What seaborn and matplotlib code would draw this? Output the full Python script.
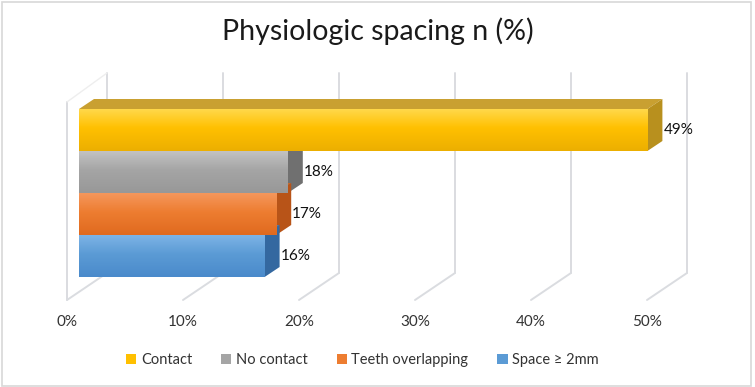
import numpy as np
import matplotlib
matplotlib.use("Agg")
import matplotlib.pyplot as plt
import seaborn as sns
from matplotlib.patches import Polygon, Patch, Rectangle
from matplotlib.colors import to_rgb

# 데이터
categories = ["Contact", "No contact", "Teeth overlapping", "Space \u2265 2mm"]
values = [49, 18, 17, 16]
tick_values = [0, 10, 20, 30, 40, 50]
tick_labels = ["0%", "10%", "20%", "30%", "40%", "50%"]

# 색상 (앞면 / 측면 / 윗면)
front_colors = ["#FFC000", "#A5A5A5", "#ED7D31", "#5B9BD5"]
light_colors = ["#FFD84A", "#C2C2C2", "#F5975C", "#7DB3E6"]
dark_colors = ["#ECAF00", "#989898", "#E06A1F", "#4A8ACB"]
side_colors = ["#B8901E", "#707070", "#B85418", "#3468A0"]
top_colors = ["#C9A031", "#8A8A8A", "#C76A2E", "#4A7DB5"]

sns.set_theme(style="white")
plt.rcParams["font.family"] = ["Lato", "DejaVu Sans"]

W, H = 755, 387
fig = plt.figure(figsize=(W / 100, H / 100), dpi=100)
ax = fig.add_axes([0, 0, 1, 1])

SX = 11.6   # px per 1%
SY = 42.0   # px per bar
X0 = 79     # px of 0% on bar front plane
Y0 = 130    # px of first bar centre


def px_x(dpx):
    return dpx / SX


def py(p):
    return (p - Y0) / SY


sns.barplot(x=values, y=categories, hue=categories, palette=front_colors,
            orient="h", width=1.0, legend=False, ax=ax, zorder=3,
            saturation=1, linewidth=0)

BDX, BDY = px_x(15), -10 / SY

# 3D faces + gradient
for i, p in enumerate(ax.patches):
    x0, w = p.get_x(), p.get_width()
    y0, h = p.get_y(), p.get_height()
    top, bot = min(y0, y0 + h), max(y0, y0 + h)
    top_face = Polygon([(x0, top), (x0 + w, top), (x0 + w + BDX, top + BDY),
                        (x0 + BDX, top + BDY)], closed=True,
                       facecolor=top_colors[i], edgecolor="none", zorder=2)
    side_face = Polygon([(x0 + w, top), (x0 + w, bot), (x0 + w + BDX, bot + BDY),
                         (x0 + w + BDX, top + BDY)], closed=True,
                        facecolor=side_colors[i], edgecolor="none", zorder=2)
    ax.add_patch(top_face)
    ax.add_patch(side_face)
    c_l, c_m, c_d = map(np.array, (to_rgb(light_colors[i]), to_rgb(front_colors[i]),
                                   to_rgb(dark_colors[i])))
    t = np.linspace(0, 1, 64)[:, None]
    grad = np.where(t < 0.45, c_l + (c_m - c_l) * (t / 0.45),
                    c_m + (c_d - c_m) * ((t - 0.45) / 0.55))
    img = ax.imshow(grad[:, None, :], extent=(x0, x0 + w, bot, top), aspect="auto",
                    interpolation="bicubic", zorder=3)
    img.set_clip_path(p)

    ax.text(values[i] + px_x(16), i, f"{values[i]}%", ha="left", va="center",
            fontsize=11, color="#111111", zorder=5)

# 뒷면 격자 및 바닥
grid_c = "#DADCE0"
back_off, front_off = px_x(28), px_x(-12)
for tv, tl in zip(tick_values, tick_labels):
    ax.plot([tv + back_off, tv + back_off], [py(73), py(273)], color=grid_c, lw=1.4, zorder=0)
    ax.plot([tv + back_off, tv + front_off], [py(273), py(300)], color=grid_c, lw=1.4, zorder=0)
    ax.text(tv + front_off, py(322), tl, ha="center", va="center",
            fontsize=11, color="#333333")
ax.plot([front_off, front_off], [py(102), py(300)], color=grid_c, lw=1.4, zorder=0)
ax.plot([front_off, back_off], [py(102), py(73)], color="#EEEEEE", lw=1.0, zorder=0)

ax.set_xlim(-X0 / SX, (W - X0) / SX)
ax.set_ylim((H - Y0) / SY, -Y0 / SY)
ax.axis("off")

fig.text(0.5, 1 - 31 / H, "Physiologic spacing n (%)", ha="center", va="center",
         fontsize=20.5, color="#1a1a1a")

handles = [Patch(facecolor=c, edgecolor="none") for c in front_colors]
fig.legend(handles, categories, loc="center", bbox_to_anchor=(0.48, 1 - 360 / H),
           ncol=4, frameon=False, fontsize=10.5, handlelength=0.7, handleheight=0.7,
           handletextpad=0.3, columnspacing=2.0, labelcolor="#333333")

fig.patches.append(Rectangle((0.002, 0.003), 0.993, 0.992, transform=fig.transFigure,
                             fill=False, edgecolor="#D8D8D8", lw=1.2))

fig.savefig("out.png", dpi=100)
